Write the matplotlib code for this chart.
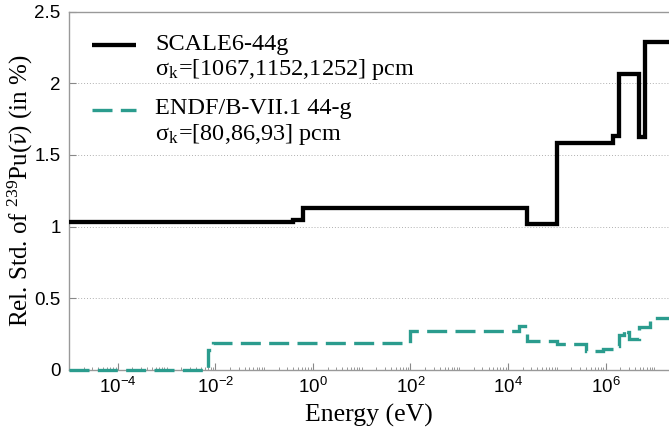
import matplotlib
matplotlib.use('Agg')
import matplotlib.pyplot as plt
from matplotlib.ticker import LogLocator, FixedLocator, FuncFormatter, NullFormatter

# group boundaries (eV) and relative std (%)
scale_edges = [1e-5, 0.4, 0.625, 2.5e4, 1e5, 1.4e6, 1.85e6, 4.8e6, 6.434e6, 2e7]
scale_vals = [1.035, 1.045, 1.13, 1.02, 1.585, 1.63, 2.065, 1.625, 2.29]

endf_edges = [1e-5, 7e-3, 9e-3, 100, 550, 1.7e4, 2.5e4, 1e5, 4e5, 9e5, 1.4e6,
              1.85e6, 2.354e6, 2.479e6, 3e6, 4.8e6, 8.187e6, 2e7]
endf_vals = [0, 0.14, 0.185, 0.275, 0.27, 0.31, 0.20, 0.18, 0.13, 0.145, 0.165,
             0.245, 0.285, 0.265, 0.215, 0.30, 0.36]

labels = ['SCALE6-44g', 'ENDF/B-VII.1 44-g']
sigma_k = ['[1067,1152,1252] pcm', '[80,86,93] pcm']
colors = ['black', '#2b9c8e']

xticks = [1e-4, 1e-2, 1e0, 1e2, 1e4, 1e6]
yticks = [0, 0.5, 1, 1.5, 2, 2.5]

plt.rcParams['font.family'] = 'Liberation Sans'
plt.rcParams['mathtext.fontset'] = 'stix'

fig = plt.figure(figsize=(6.69, 4.38), dpi=100)
ax = fig.add_axes([69 / 669, 1 - 370 / 438, 600 / 669, 358.5 / 438])

ax.stairs(scale_vals, scale_edges, baseline=None, color=colors[0], lw=3.1,
          joinstyle='miter', zorder=3, clip_on=False)
ax.stairs(endf_vals, endf_edges, baseline=None, color=colors[1], lw=2.4,
          linestyle=(0, (6, 2.5)), joinstyle='miter', zorder=3, clip_on=False)

ax.set_xscale('log')
ax.set_xlim(1e-5, 2e7)
ax.set_ylim(0, 2.5)

ax.xaxis.set_major_locator(FixedLocator(xticks))
ax.xaxis.set_minor_locator(LogLocator(base=10, subs=range(1, 10), numticks=100))
ax.xaxis.set_minor_formatter(NullFormatter())
ax.set_yticks(yticks)
ax.yaxis.set_major_formatter(FuncFormatter(lambda v, p: '%g' % v))

ax.tick_params(axis='both', which='major', direction='in', length=5, width=0.8,
               color='#888888', labelsize=13.5, pad=6)
ax.tick_params(axis='x', which='minor', direction='in', length=2.5, width=0.6,
               color='#888888')
ax.tick_params(axis='x', which='major', pad=5)

for s in ['left', 'top', 'bottom']:
    ax.spines[s].set_color('#999999')
    ax.spines[s].set_linewidth(1.0)
ax.spines['right'].set_visible(False)

ax.yaxis.grid(True, linestyle=(0, (1, 2)), color='#b0b0b0', lw=0.7)
ax.set_axisbelow(True)

ax.set_xlabel('Energy (eV)', family='Liberation Serif', fontsize=18.5, labelpad=5)
ax.set_ylabel(r'Rel. Std. of $^{\mathregular{239}}$Pu($\mathrm{\bar{\nu}}$) (in %)',
              family='Liberation Serif', fontsize=18)
ax.yaxis.set_label_coords(-0.056, 0.5)

# legend drawn by hand so the handle sits on the first line of each label
handle_y = [0.9066, 0.7252]
base1 = [0.8926, 0.7141]
base2 = [0.8229, 0.6416]
for i in range(2):
    ls = '-' if i == 0 else (0, (6, 2.5))
    lw = 3.1 if i == 0 else 2.4
    ax.plot([0.038, 0.112], [handle_y[i], handle_y[i]], transform=ax.transAxes,
            color=colors[i], lw=lw, linestyle=ls, solid_capstyle='butt')
    ax.text(0.1433, base1[i], labels[i], transform=ax.transAxes, va='baseline',
            family='Liberation Serif', fontsize=17.5)
    ax.text(0.1433, base2[i], 'σ$_{\\mathregular{k}}$=' + sigma_k[i],
            transform=ax.transAxes, va='baseline', family='Liberation Serif',
            fontsize=17.5)

fig.savefig('out.png', dpi=100)
